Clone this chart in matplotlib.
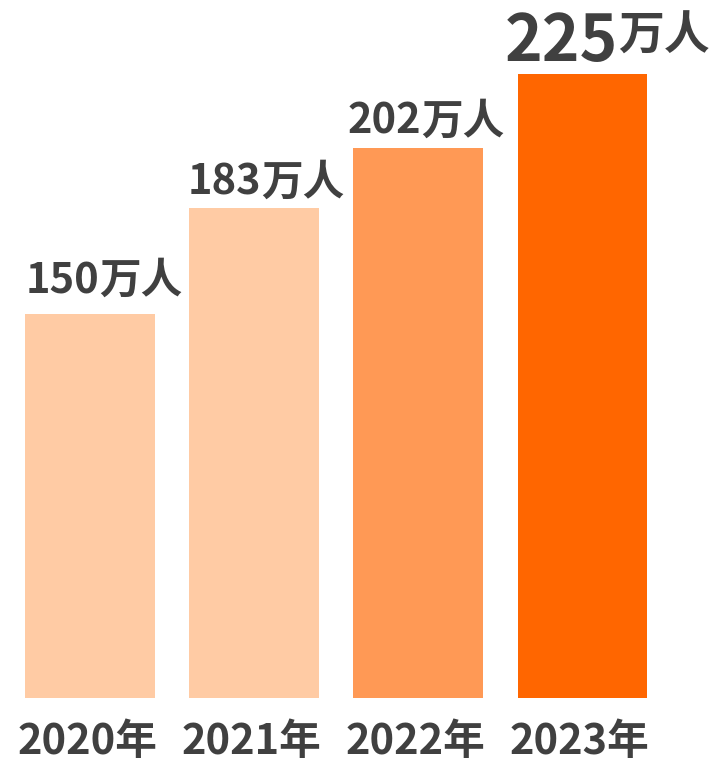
import matplotlib.pyplot as plt

plt.rcParams['font.family'] = ['Noto Sans CJK SC', 'DejaVu Sans']

# 毕业生人数（万人）
years = ['2020年', '2021年', '2022年', '2023年']
values = [150, 183, 202, 225]
colors = ['#FFCBA4', '#FFCBA4', '#FF9955', '#FF6600']
unit = '万人'

text_color = '#404040'
num_sizes = [30, 30, 30, 46]
unit_sizes = [30, 30, 30, 33]
# label offsets from the bar's top-left corner, in pixels
label_dx = [0, -2, -6, -13]
label_dy = [21, 14, 14, 13]
unit_raise = [0, 0, 0, 15]

fig = plt.figure(figsize=(7.12, 7.64), dpi=100)
ax = fig.add_axes([0, 66 / 764, 1, 698 / 764])

bar_w = 0.79
x = range(len(values))
bars = ax.bar(x, values, width=bar_w, color=colors, bottom=0)

ax.set_xlim(-0.549, 3.79)
ax.set_ylim(30, 30 + 698 / 3.2)
ax.axis('off')

px = 0.72  # points per pixel at 100 dpi
for i, (b, v) in enumerate(zip(bars, values)):
    left = b.get_x()
    t = ax.annotate(str(v), xy=(left, v), xytext=(label_dx[i] * px, label_dy[i] * px),
                    textcoords='offset points', ha='left', va='baseline',
                    fontsize=num_sizes[i], fontweight='bold', color=text_color,
                    annotation_clip=False)
    ax.annotate(unit, xy=(1, 0), xycoords=t, xytext=(0, unit_raise[i] * px),
                textcoords='offset points', ha='left', va='bottom',
                fontsize=unit_sizes[i], fontweight='bold', color=text_color,
                annotation_clip=False)

for i, yr in enumerate(years):
    ax.annotate(yr, xy=(i, 0), xycoords=('data', 'axes fraction'),
                xytext=(-3 * px, -44 * px), textcoords='offset points',
                ha='center', va='center', fontsize=30, fontweight='bold',
                color=text_color, annotation_clip=False)

fig.savefig('out.png', dpi=100)
